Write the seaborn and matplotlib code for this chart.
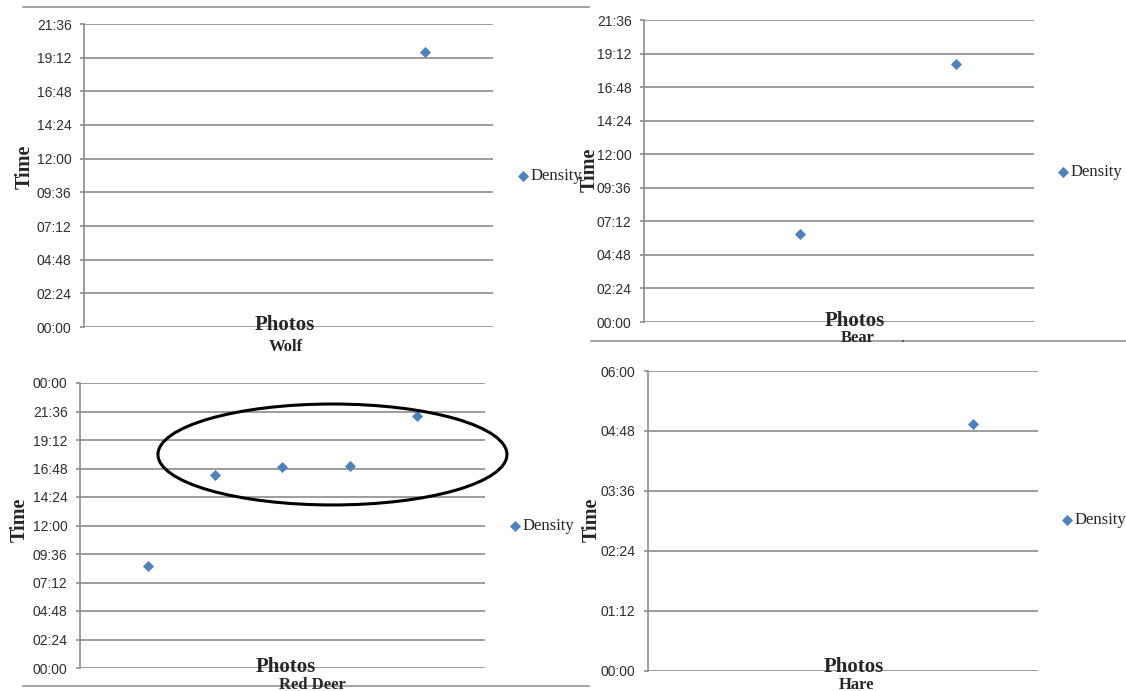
import numpy as np
import pandas as pd
import matplotlib.pyplot as plt
import seaborn as sns
from matplotlib.patches import Ellipse
from matplotlib.lines import Line2D
from matplotlib.ticker import FuncFormatter, MultipleLocator

# photo number (x) and time of day in hours (y) for each animal
wolf_photo = [1]
wolf_time = [19.6]
bear_photo = [1, 2]
bear_time = [6.3, 18.45]
deer_photo = [1, 2, 3, 4, 5]
deer_time = [8.6, 16.25, 16.93, 16.98, 21.2]
hare_photo = [1]
hare_time = [4.95]

names = ['Wolf', 'Bear', 'Red Deer', 'Hare']
series_label = 'Density'

sns.set_style('white')
plt.rcParams['font.family'] = ['Liberation Sans', 'DejaVu Sans']

W, H = 1126, 691
fig = plt.figure(figsize=(W / 100, H / 100), dpi=100)

blue = '#4F81BD'
grid_col = '#8C8C8C'
serif = ['Liberation Serif', 'DejaVu Serif']


def rect(l, t, r, b):
    # pixel box -> figure fraction
    return [l / W, 1 - b / H, (r - l) / W, (b - t) / H]


def hhmm(v, pos=None):
    m = int(round(v * 60)) % (24 * 60)
    return '%02d:%02d' % (m // 60, m % 60)


def make_panel(box, photo, time, xmax, ymax, step, name,
               legend_xy, time_xy, photos_xy, name_xy):
    ax = fig.add_axes(rect(*box))
    df = pd.DataFrame({'photo': photo, 'time': time})
    sns.scatterplot(data=df, x='photo', y='time', ax=ax, marker='D', s=32,
                    color=blue, edgecolor=blue, linewidth=0,
                    label=series_label, clip_on=False, zorder=3)
    ax.set_xlim(0, xmax)
    ax.set_ylim(0, ymax)
    ax.yaxis.set_major_locator(MultipleLocator(step))
    ax.yaxis.set_major_formatter(FuncFormatter(hhmm))
    ax.set_xticks([])
    ax.set_xlabel('')
    ax.set_ylabel('')
    ax.yaxis.grid(True, color=grid_col, lw=1.2)
    ax.set_axisbelow(True)
    for s in ['top', 'right', 'bottom']:
        ax.spines[s].set_visible(False)
    ax.spines['left'].set_color(grid_col)
    ax.spines['left'].set_linewidth(1.2)
    ax.tick_params(axis='y', left=True, length=3, width=1.2, color=grid_col,
                   pad=6, labelsize=10, labelcolor='#2e2e2e')
    ax.legend(loc='center left',
              bbox_to_anchor=(legend_xy[0] / W, 1 - legend_xy[1] / H),
              bbox_transform=fig.transFigure, frameon=False,
              handlelength=0.8, handletextpad=0.1, borderpad=0,
              borderaxespad=0, prop={'family': serif, 'size': 12})

    fig.text(time_xy[0] / W, 1 - time_xy[1] / H, 'Time', rotation=90,
             ha='center', va='center', family=serif, weight='bold', size=14.5)
    fig.text(photos_xy[0] / W, 1 - photos_xy[1] / H, 'Photos',
             ha='center', va='center', family=serif, weight='bold', size=15)
    fig.text(name_xy[0] / W, 1 - name_xy[1] / H, name,
             ha='center', va='center', family=serif, weight='bold', size=12)
    return ax


make_panel((84, 24, 493, 327), wolf_photo, wolf_time, 1.2, 21.6, 2.4, names[0],
           (516, 176), (25, 167), (285, 325), (286, 347))
make_panel((644, 20, 1034, 322), bear_photo, bear_time, 2.5, 21.6, 2.4, names[1],
           (1056, 172), (590, 170), (855, 321), (858, 338))
ax3 = make_panel((80, 383, 485, 668), deer_photo, deer_time, 6, 24, 2.4, names[2],
                 (508, 526), (20, 520), (286, 667), (312, 685))
make_panel((648, 371, 1038, 671), hare_photo, hare_time, 1.2, 6, 1.2, names[3],
           (1060, 520), (592, 520), (854, 667), (857, 685))

# hand-drawn ring around the evening red deer photos
ring = Ellipse((3.74, 17.98), width=5.17, height=8.5, transform=ax3.transData,
               fill=False, edgecolor='black', lw=2.2, clip_on=False, zorder=4)
ax3.add_patch(ring)

# frame edges of the pasted charts
for x0, x1, y in [(23, 589, 6.5), (591, 1126, 340.5), (23, 589, 686)]:
    fig.add_artist(Line2D([x0 / W, x1 / W], [1 - y / H, 1 - y / H],
                          transform=fig.transFigure, color='#A6A6A6', lw=1.5))
fig.text(903 / W, 1 - 338 / H, '.', ha='center', va='center', size=10)

fig.savefig('out.png', dpi=100)
